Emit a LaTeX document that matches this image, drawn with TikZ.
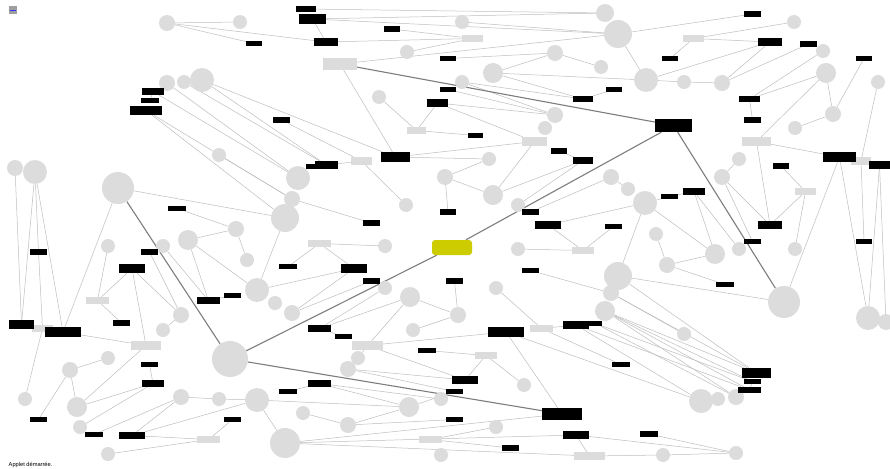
\documentclass[tikz,border=0pt]{standalone}
\usepackage{fontspec}
\newfontfamily\uifont{Liberation Sans}
\usetikzlibrary{backgrounds}
\definecolor{nodegray}{RGB}{220,220,220}
\definecolor{edgegray}{RGB}{190,190,190}
\definecolor{majorgray}{RGB}{125,125,125}
\definecolor{hubyellow}{RGB}{204,204,0}
\tikzset{
  cir/.style={circle,fill=nodegray,draw=none,inner sep=0pt},
  blk/.style={rectangle,fill=black,draw=none,inner sep=0pt},
  lgt/.style={rectangle,fill=nodegray,draw=none,inner sep=0pt},
  ed/.style={draw=edgegray,line width=0.5pt},
  major/.style={draw=majorgray,line width=1.1pt},
}
\newcommand\mkC[4]{\node[cir,minimum size={#4*2pt}] (#1) at (#2,#3) {};}
\newcommand\mkB[5]{\node[blk,minimum width={(#4-#2)*1pt},minimum height={(#5-#3)*1pt}] (#1) at ({(#2+#4)/2},{(#3+#5)/2}) {};}
\newcommand\mkL[5]{\node[lgt,minimum width={(#4-#2)*1pt},minimum height={(#5-#3)*1pt}] (#1) at ({(#2+#4)/2},{(#3+#5)/2}) {};}
\newcommand\E[2]{\draw[ed] (#1) -- (#2);}
\begin{document}
\begin{tikzpicture}[x=1pt,y=-1pt]
\useasboundingbox (0,0) rectangle (890,468);
% circles
\mkC{c1}{167}{23}{8}\mkC{c2}{240}{22}{7}\mkC{c3}{167}{83}{8}\mkC{c4}{184}{82}{7}
\mkC{c5}{202}{80}{12}\mkC{c6}{219}{155}{7}\mkC{c7}{298}{178}{12}\mkC{c8}{292}{199}{8}
\mkC{c9}{285}{218}{14}\mkC{c10}{236}{229}{8}\mkC{c11}{188}{240}{10}\mkC{c12}{247}{260}{7}
\mkC{c13}{108}{246}{7}\mkC{c14}{163}{246}{7}\mkC{c15}{257}{290}{12}\mkC{c16}{275}{303}{7}
\mkC{c17}{292}{313}{8}\mkC{c18}{181}{315}{8}\mkC{c19}{163}{330}{7}\mkC{c20}{230}{359}{18}
\mkC{c21}{108}{358}{7}\mkC{c22}{70}{370}{8}\mkC{c23}{25}{399}{7}\mkC{c24}{77}{407}{10}
\mkC{c25}{181}{397}{8}\mkC{c26}{219}{399}{7}\mkC{c27}{257}{400}{12}\mkC{c28}{80}{427}{7}
\mkC{c29}{285}{443}{15}\mkC{c30}{108}{454}{7}\mkC{c31}{15}{168}{8}\mkC{c32}{35}{172}{12}
\mkC{c33}{118}{188}{16}\mkC{c34}{379}{97}{7}\mkC{c35}{407}{52}{7}\mkC{c36}{462}{22}{7}
\mkC{c37}{493}{73}{10}\mkC{c38}{462}{82}{7}\mkC{c39}{555}{53}{8}\mkC{c40}{601}{67}{7}
\mkC{c41}{605}{13}{9}\mkC{c42}{618}{34}{14}\mkC{c43}{646}{80}{12}\mkC{c44}{684}{82}{7}
\mkC{c45}{722}{83}{8}\mkC{c46}{794}{22}{7}\mkC{c47}{823}{51}{7}\mkC{c48}{826}{73}{10}
\mkC{c49}{878}{82}{7}\mkC{c50}{833}{114}{8}\mkC{c51}{795}{128}{7}\mkC{c52}{555}{115}{8}
\mkC{c53}{545}{128}{7}\mkC{c54}{489}{159}{7}\mkC{c55}{445}{177}{8}\mkC{c56}{493}{195}{10}
\mkC{c57}{406}{205}{7}\mkC{c58}{518}{205}{7}\mkC{c59}{385}{246}{7}\mkC{c60}{518}{249}{7}
\mkC{c61}{385}{288}{7}\mkC{c62}{410}{297}{10}\mkC{c63}{496}{288}{7}\mkC{c64}{458}{315}{8}
\mkC{c65}{413}{330}{7}\mkC{c66}{358}{358}{7}\mkC{c67}{348}{369}{8}\mkC{c68}{524}{385}{7}
\mkC{c69}{441}{399}{7}\mkC{c70}{409}{407}{10}\mkC{c71}{303}{413}{7}\mkC{c72}{348}{425}{8}
\mkC{c73}{496}{427}{7}\mkC{c74}{441}{455}{7}\mkC{c75}{611}{177}{8}\mkC{c76}{628}{189}{7}
\mkC{c77}{645}{203}{12}\mkC{c78}{722}{177}{8}\mkC{c79}{739}{159}{7}\mkC{c80}{656}{234}{7}
\mkC{c81}{715}{254}{10}\mkC{c82}{739}{249}{7}\mkC{c83}{795}{249}{7}\mkC{c84}{667}{265}{8}
\mkC{c85}{618}{276}{14}\mkC{c86}{611}{293}{8}\mkC{c87}{605}{311}{10}\mkC{c88}{784}{302}{16}
\mkC{c89}{868}{318}{12}\mkC{c90}{886}{322}{8}\mkC{c91}{684}{334}{7}\mkC{c92}{701}{401}{12}
\mkC{c93}{718}{399}{7}\mkC{c94}{736}{397}{8}\mkC{c95}{663}{455}{7}\mkC{c96}{736}{453}{7}
% light rectangles
\mkL{l1}{323}{58}{357}{70}\mkL{l2}{462}{35}{483}{42}\mkL{l3}{407}{127}{426}{134}
\mkL{l4}{522}{137}{547}{146}\mkL{l5}{351}{157}{372}{165}\mkL{l6}{683}{35}{704}{42}
\mkL{l7}{742}{137}{771}{146}\mkL{l8}{851}{157}{871}{165}\mkL{l9}{795}{188}{816}{195}
\mkL{l10}{308}{240}{331}{247}\mkL{l11}{572}{247}{594}{254}\mkL{l12}{86}{297}{109}{304}
\mkL{l13}{32}{325}{53}{332}\mkL{l14}{131}{341}{161}{350}\mkL{l15}{352}{341}{383}{350}
\mkL{l16}{530}{325}{553}{332}\mkL{l17}{475}{352}{497}{359}\mkL{l18}{197}{436}{220}{443}
\mkL{l19}{419}{436}{442}{443}\mkL{l20}{574}{452}{605}{460}
% black rectangles
\mkB{b1}{246}{41}{262}{46}\mkB{b2}{296}{6}{316}{12}\mkB{b3}{299}{14}{326}{24}
\mkB{b4}{384}{26}{400}{32}\mkB{b5}{314}{38}{338}{46}\mkB{b6}{440}{56}{456}{61}
\mkB{b7}{440}{87}{456}{92}\mkB{b8}{427}{99}{448}{107}\mkB{b9}{468}{133}{483}{138}
\mkB{b10}{381}{152}{410}{162}\mkB{b11}{551}{148}{567}{154}\mkB{b12}{573}{96}{593}{102}
\mkB{b13}{606}{87}{622}{92}\mkB{b14}{573}{157}{593}{164}\mkB{b15}{744}{11}{761}{17}
\mkB{b16}{758}{38}{782}{46}\mkB{b17}{800}{41}{817}{47}\mkB{b18}{662}{56}{678}{61}
\mkB{b19}{856}{56}{872}{61}\mkB{b20}{739}{96}{760}{102}\mkB{b21}{744}{117}{761}{123}
\mkB{b22}{655}{119}{692}{132}\mkB{b23}{823}{152}{856}{162}\mkB{b24}{869}{161}{890}{169}
\mkB{b25}{773}{163}{789}{169}\mkB{b26}{661}{194}{678}{199}\mkB{b27}{683}{188}{705}{195}
\mkB{b28}{605}{224}{622}{229}\mkB{b29}{758}{221}{782}{229}\mkB{b30}{744}{239}{761}{244}
\mkB{b31}{856}{239}{872}{244}\mkB{b32}{716}{282}{734}{287}\mkB{b33}{142}{88}{164}{95}
\mkB{b34}{141}{98}{159}{103}\mkB{b35}{130}{106}{162}{115}\mkB{b36}{273}{117}{290}{123}
\mkB{b37}{315}{161}{338}{169}\mkB{b38}{306}{164}{317}{169}\mkB{b39}{168}{206}{186}{211}
\mkB{b40}{363}{220}{380}{226}\mkB{b41}{440}{209}{456}{215}\mkB{b42}{522}{209}{539}{215}
\mkB{b43}{535}{221}{561}{229}\mkB{b44}{30}{249}{47}{255}\mkB{b45}{141}{249}{158}{255}
\mkB{b46}{119}{264}{145}{273}\mkB{b47}{279}{264}{297}{269}\mkB{b48}{341}{264}{367}{273}
\mkB{b49}{522}{268}{539}{273}\mkB{b50}{224}{293}{241}{298}\mkB{b51}{197}{297}{220}{304}
\mkB{b52}{363}{278}{380}{284}\mkB{b53}{446}{278}{463}{284}\mkB{b54}{9}{320}{34}{329}
\mkB{b55}{45}{327}{81}{337}\mkB{b56}{113}{320}{130}{326}\mkB{b57}{308}{325}{331}{332}
\mkB{b58}{335}{334}{352}{339}\mkB{b59}{488}{327}{524}{337}\mkB{b60}{563}{321}{589}{329}
\mkB{b61}{589}{321}{602}{326}\mkB{b62}{418}{348}{436}{353}\mkB{b63}{452}{376}{478}{384}
\mkB{b64}{308}{380}{331}{387}\mkB{b65}{141}{362}{158}{367}\mkB{b66}{142}{380}{164}{387}
\mkB{b67}{279}{389}{297}{394}\mkB{b68}{446}{389}{463}{394}\mkB{b69}{542}{408}{582}{420}
\mkB{b70}{446}{417}{463}{422}\mkB{b71}{563}{431}{589}{439}\mkB{b72}{502}{445}{519}{451}
\mkB{b73}{30}{417}{47}{422}\mkB{b74}{85}{432}{103}{437}\mkB{b75}{119}{432}{145}{439}
\mkB{b76}{224}{417}{241}{422}\mkB{b77}{612}{362}{630}{367}\mkB{b78}{742}{368}{771}{378}
\mkB{b79}{744}{379}{761}{384}\mkB{b80}{738}{387}{761}{393}\mkB{b81}{640}{431}{658}{437}
% centre node
\node[rectangle,rounded corners=3pt,fill=hubyellow,minimum width=40pt,minimum height=15pt,inner sep=0pt] (Y) at (452,247.5) {};
% applet icon and status text
\node[rectangle,fill=gray!75,minimum width=8pt,minimum height=8pt,inner sep=0pt] (icon) at (13,10.5) {};
\draw[blue!80,line width=0.8pt] (icon.west) ++(1pt,0) -- ++(6pt,0);
\node[anchor=west,inner sep=0pt,font=\uifont\fontsize{5.7}{6.5}\selectfont] (status) at (8.5,464.5) {Applet démarrée.};
\begin{scope}[on background layer]
\fill[white] (0,0) rectangle (890,468);
\E{c1}{c2}\E{c1}{b1}\E{c1}{b5}
\E{b2}{c41}\E{b3}{c41}\E{b3}{c42}\E{b3}{b5}
\E{c36}{c42}\E{b5}{l2}\E{b4}{l2}\E{c35}{l2}
\E{l1}{c42}\E{l1}{b10}
\E{b6}{c39}\E{c39}{c40}\E{c37}{c39}\E{c37}{c43}\E{c37}{b12}\E{c38}{b12}\E{c38}{c52}
\E{b7}{c52}\E{b8}{c52}\E{b8}{l4}\E{b8}{l3}
\E{c34}{l3}\E{l3}{b9}\E{l4}{b10}\E{l4}{c56}\E{b11}{b14}\E{b12}{b13}
\E{c42}{c43}\E{c43}{b16}\E{c43}{c44}\E{l6}{b18}\E{l6}{b16}\E{l6}{c46}\E{b15}{c42}
\E{c44}{c45}\E{c45}{b16}\E{c45}{b17}
\E{c47}{b20}\E{c48}{b20}\E{c48}{c50}\E{c49}{l8}\E{b19}{c50}\E{c50}{c51}\E{b20}{b21}
\E{c48}{l7}\E{l7}{b23}\E{l7}{b29}
\E{b23}{c88}\E{b23}{c89}\E{l8}{b31}\E{b24}{c89}\E{b24}{c90}
\E{b25}{l9}\E{l9}{b29}\E{l9}{c83}
\E{c79}{c78}\E{c78}{b29}\E{c78}{b30}
\E{c75}{c76}\E{c77}{c81}\E{c77}{c85}\E{c77}{b26}\E{b26}{b27}\E{b27}{c81}\E{b27}{c82}
\E{b43}{c77}\E{b42}{c75}
\E{c80}{c84}\E{c84}{c81}\E{c84}{b32}
\E{c85}{c88}
\E{c60}{l11}\E{b43}{l11}\E{b28}{l11}
\E{b49}{c86}
\E{c3}{c7}\E{c4}{b37}\E{b33}{c7}\E{b33}{b34}\E{b35}{c8}\E{b35}{c9}\E{c5}{b10}\E{c5}{b37}
\E{b36}{l5}\E{c6}{c8}
\E{b37}{l5}\E{l5}{c57}
\E{b10}{c54}\E{c55}{c54}\E{c55}{c56}\E{c55}{b41}\E{c56}{b14}\E{c58}{b14}
\E{l10}{c59}\E{l10}{b47}\E{l10}{b48}\E{b48}{c15}\E{b48}{c17}\E{b52}{c17}
\E{c61}{b57}\E{c62}{c64}\E{c62}{l15}\E{b53}{c64}\E{c63}{l16}
\E{b57}{c62}\E{b57}{b58}\E{l15}{b59}\E{l15}{b63}\E{c65}{c64}\E{b62}{l17}\E{l17}{b63}\E{l17}{c68}
\E{b59}{b69}\E{b59}{c92}\E{l16}{b60}\E{l16}{b77}
\E{c66}{l15}\E{c67}{b63}\E{c67}{b68}
\E{b64}{b67}\E{b64}{c69}\E{b64}{c70}\E{c70}{b68}
\E{c27}{c70}\E{c71}{c72}\E{c72}{c70}\E{c72}{b70}\E{c27}{c29}
\E{c29}{b69}\E{c29}{b71}\E{c29}{l20}
\E{l19}{b72}\E{l19}{c73}\E{b71}{l20}
\E{c87}{b78}\E{c87}{b79}\E{c87}{b80}\E{c87}{c94}\E{c86}{c91}
\E{b61}{c94}\E{b60}{c92}\E{c86}{b78}\E{c85}{b78}\E{b60}{b80}\E{b61}{b79}\E{b79}{b80}
\E{b71}{c96}\E{b81}{c96}\E{c95}{c96}\E{l20}{c95}
\E{c31}{b54}\E{c32}{b54}\E{c32}{b44}\E{b44}{l13}\E{c33}{b55}\E{c32}{b55}
\E{c33}{c9}
\E{l12}{b56}\E{l12}{b46}\E{l12}{c13}\E{b46}{l14}\E{b46}{c18}\E{b45}{c18}\E{c14}{b51}
\E{c11}{b51}\E{c11}{c15}\E{c11}{c10}\E{c10}{c12}\E{b39}{c10}\E{c9}{c15}\E{b40}{c8}\E{b50}{b51}
\E{c18}{c19}\E{b55}{l14}
\E{c24}{b66}\E{c28}{b66}\E{b74}{c25}\E{b75}{c25}\E{b75}{c27}\E{b75}{l18}\E{c25}{c26}
\E{c26}{c27}\E{c30}{l18}\E{l18}{b76}
\E{c22}{c21}\E{c22}{c24}\E{c22}{b73}\E{c23}{l13}\E{l14}{c24}\E{b65}{b66}
% major connectors
\draw[major] (Y) -- (b22);
\draw[major] (b22) -- (l1);
\draw[major] (b22) -- (c88);
\draw[major] (Y) -- (c20);
\draw[major] (c33) -- (c20);
\draw[major] (c20) -- (b69);
\end{scope}
\end{tikzpicture}
\end{document}
